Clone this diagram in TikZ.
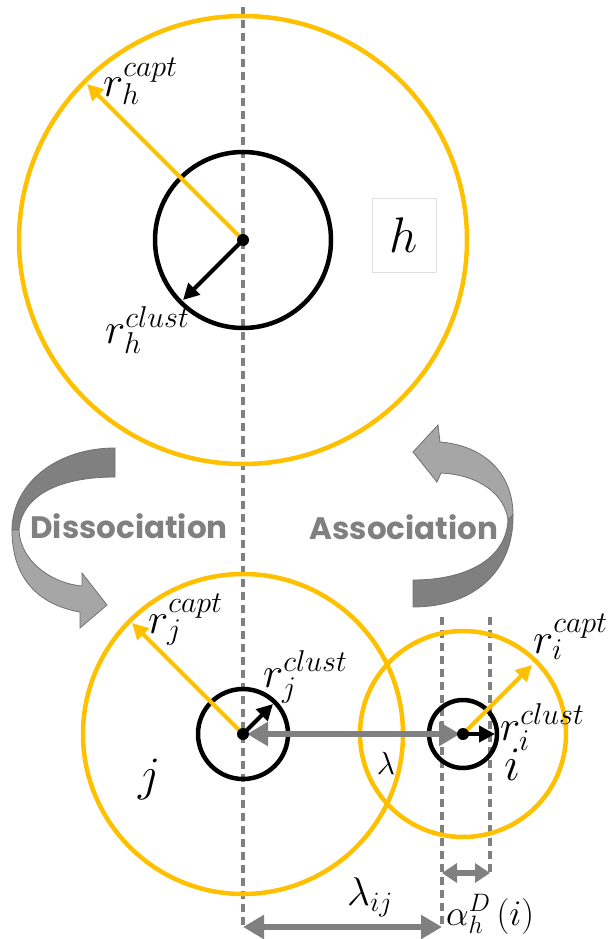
\RequirePackage{fix-cm}
\documentclass[tikz,border=0pt]{standalone}
\usepackage{fontspec}
\newfontfamily\ribbonfont{Poppins}
\usetikzlibrary{arrows.meta}

\definecolor{captcolor}{RGB}{255,192,0}
\definecolor{guidegray}{RGB}{128,128,128}
\definecolor{ribbonlight}{RGB}{166,166,166}
\definecolor{ribbonedge}{RGB}{112,112,112}

\tikzset{
  captring/.style={draw=captcolor, line width=4.5pt},
  clustring/.style={draw=black, line width=4.5pt},
  guide/.style={draw=guidegray, line width=3.2pt, dash pattern=on 8pt off 5pt},
  captarrow/.style={captcolor, line width=4pt, -{Triangle[length=16pt,width=16pt]}},
  clustarrow/.style={black, line width=4pt, -{Triangle[length=16pt,width=16pt]}},
  dist/.style={guidegray, line width=6pt,
    {Triangle[length=21pt,width=23pt]}-{Triangle[length=21pt,width=23pt]}},
  smalldist/.style={guidegray, line width=6pt,
    {Triangle[length=15pt,width=19pt]}-{Triangle[length=15pt,width=19pt]}},
  lbl/.style={inner sep=0pt, font=\fontsize{43}{50}\selectfont},
  bigname/.style={inner sep=0pt, font=\fontsize{48}{56}\selectfont},
  ribbondark/.style={fill=guidegray, draw=ribbonedge, line width=0.8pt},
  ribbonbright/.style={fill=ribbonlight, draw=ribbonedge, line width=0.8pt},
  ribbontext/.style={inner sep=0pt, text=guidegray, font=\ribbonfont\bfseries\fontsize{31}{38}\selectfont}
}

\begin{document}
\begin{tikzpicture}[x=1pt,y=-1pt]

\useasboundingbox (0,0) rectangle (608,939);

% cluster centres
\coordinate (hc) at (243,240);
\coordinate (jc) at (243,734);
\coordinate (ic) at (463,734);

% guide lines
\coordinate (axtop) at (243,7);
\coordinate (axbot) at (243,928);
\coordinate (ga top) at (442,617);
\coordinate (ga bot) at (442,928);
\coordinate (gb top) at (490,617);
\coordinate (gb bot) at (490,873);
\draw[guide] (axtop) -- (axbot);
\draw[guide] (ga top) -- (ga bot);
\draw[guide] (gb top) -- (gb bot);

% capture and cluster rings
\draw[captring] (hc) circle (224pt);
\draw[captring] (jc) circle (160pt);
\draw[captring] (ic) circle (103pt);
\draw[clustring] (hc) circle (88pt);
\draw[clustring] (jc) circle (45pt);
\draw[clustring] (ic) circle (34pt);

% radii
\path (hc) ++(-156,-156) coordinate (hcapt);
\path (hc) ++(-60,60) coordinate (hclust);
\path (jc) ++(-111,-111) coordinate (jcapt);
\path (jc) ++(30,-30) coordinate (jclust);
\path (ic) ++(69,-69) coordinate (icapt);
\path (ic) ++(32,0) coordinate (iclust);
\draw[captarrow] (hc) -- (hcapt);
\draw[captarrow] (jc) -- (jcapt);
\draw[captarrow] (ic) -- (icapt);
\draw[clustarrow] (hc) -- (hclust);
\draw[clustarrow] (jc) -- (jclust);
\draw[clustarrow] (ic) -- (iclust);

% distances
\draw[dist, shorten <=4pt, shorten >=3pt] (jc) -- (ic);
\coordinate (lijL) at (243,927);
\coordinate (lijR) at (442,927);
\draw[dist] (lijL) -- (lijR);
\coordinate (alL) at (442,873);
\coordinate (alR) at (490,873);
\draw[smalldist] (alL) -- (alR);

\foreach \c in {hc,jc,ic} {
  \fill (\c) circle (6pt);
}

% labels
\node[lbl, anchor=base west] (rhcapt) at (103,97) {$r_h^{capt}$};
\node[lbl, anchor=base west] (rhclust) at (105,343) {$r_h^{clust}$};
\node[lbl, anchor=base west] (rjcapt) at (148,633) {$r_j^{capt}$};
\node[lbl, anchor=base west] (rjclust) at (263,687) {$r_j^{clust}$};
\node[lbl, anchor=base west] (ricapt) at (533,653) {$r_i^{capt}$};
\node[lbl, anchor=base west] (riclust) at (500,740) {$r_i^{clust}$};
\node[draw=gray!25, line width=0.8pt, fill=white, minimum width=64pt,
  minimum height=74pt, font=\fontsize{50}{58}\selectfont] (hname) at (404,235) {$h$};
\node[bigname] (jname) at (150,779) {$j$};
\node[bigname] (iname) at (513,765) {$i$};
\node[inner sep=0pt, font=\fontsize{32}{38}\selectfont] (lam) at (386,763) {$\lambda$};
\node[inner sep=0pt, anchor=base, font=\fontsize{40}{47}\selectfont] (lamij) at (370,905) {$\lambda_{ij}$};
\node[inner sep=0pt, anchor=base west, font=\fontsize{36}{43}\selectfont] (alpha) at (446,925) {$\alpha_h^D\left(i\right)$};

% dissociation ribbon
\filldraw[ribbondark] (115,448) .. controls (55,448) and (12,485) .. (12,530)
  -- (19,530) .. controls (22,495) and (60,477) .. (115,477) -- cycle;
\filldraw[ribbonbright] (12,530) .. controls (12,580) and (40,605) .. (80,612)
  -- (80,628) -- (107,605) -- (82,573) -- (82,586)
  .. controls (50,583) and (20,560) .. (19,530) -- cycle;
\node[ribbontext] (dissoc) at (129,526) {Dissociation};

% association ribbon
\filldraw[ribbonbright] (513,515) .. controls (513,470) and (480,445) .. (440,442)
  -- (438,425) -- (413,452) -- (437,482) -- (441,473)
  .. controls (480,475) and (505,495) .. (508,520) -- cycle;
\filldraw[ribbondark] (508,520) .. controls (506,560) and (465,580) .. (413,580)
  -- (413,607) .. controls (475,607) and (514,570) .. (513,515) -- cycle;
\node[ribbontext] (assoc) at (404,527) {Association};

\end{tikzpicture}
\end{document}
